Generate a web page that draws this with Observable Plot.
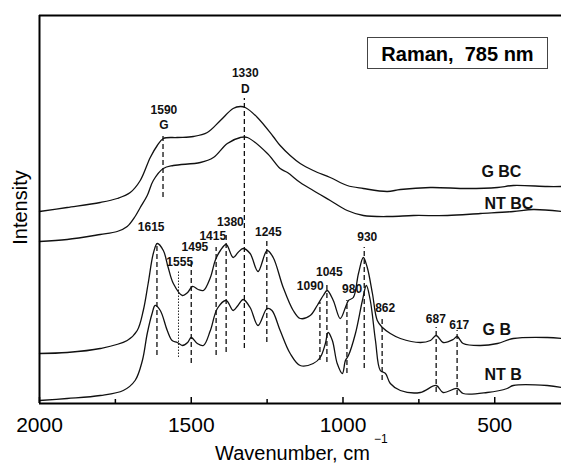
<!DOCTYPE html>
<html><head><meta charset="utf-8">
<script src="https://cdn.jsdelivr.net/npm/d3@7"></script>
<script src="https://cdn.jsdelivr.net/npm/@observablehq/plot@0.6"></script>
<style>body{margin:0;background:#fff}#chart{width:561px;height:463px}</style>
</head><body><div id="chart"></div>
<script>
const FONT = '"Liberation Sans", Arial, Helvetica, sans-serif';

// x axis ticks (wavenumber, cm^-1)
const xTicks = [2000, 1500, 1000, 500];
const xMinor = [1750, 1250, 750];

// spectra: [wavenumber, intensity (arb. units, offset stacked)]
const gBC = [[2000,192],[1909,196],[1800,201],[1744,205],[1701,211],[1668,223],[1635,246],[1612,258],[1592,265],[1546,266],[1493,267],[1447,271],[1404,283],[1362,295],[1338,297],[1322,296],[1282,286],[1230,267],[1207,258],[1174,248],[1141,240],[1098,233],[1042,226],[986,218],[933,215],[854,212],[811,214],[712,216],[590,215],[491,216],[439,218],[327,217],[280,217]];
const ntBC = [[2000,162],[1909,164],[1800,169],[1744,172],[1711,177],[1685,187],[1668,196],[1645,208],[1625,223],[1592,235],[1559,238],[1470,241],[1427,246],[1381,260],[1338,266],[1315,266],[1249,250],[1207,235],[1183,231],[1141,221],[1098,213],[1042,203],[986,193],[933,188],[844,187],[768,188],[656,188],[547,190],[439,192],[373,194],[280,192]];
const gB = [[2000,50],[1909,51],[1800,55],[1711,63],[1678,73],[1658,93],[1642,120],[1625,150],[1612,160],[1592,153],[1576,136],[1559,120],[1529,108],[1512,111],[1496,117],[1477,114],[1460,113],[1437,126],[1421,143],[1404,153],[1385,159],[1362,146],[1346,151],[1329,155],[1306,150],[1280,132],[1250,153],[1230,146],[1197,116],[1164,93],[1141,85],[1108,88],[1085,98],[1065,108],[1052,113],[1032,103],[1009,85],[992,96],[982,103],[966,106],[949,130],[933,146],[920,136],[903,110],[887,83],[870,76],[844,70],[811,65],[745,61],[712,63],[693,68],[670,61],[637,64],[624,67],[604,60],[547,58],[491,60],[439,65],[327,66],[280,65]];
const ntB = [[2000,3],[1909,5],[1800,8],[1724,13],[1685,23],[1661,43],[1645,70],[1629,90],[1619,98],[1602,93],[1579,73],[1563,63],[1546,61],[1529,58],[1512,61],[1500,66],[1480,60],[1460,58],[1437,73],[1414,95],[1385,103],[1362,93],[1346,98],[1329,104],[1306,96],[1280,78],[1250,95],[1234,93],[1207,73],[1174,50],[1141,38],[1098,40],[1075,46],[1058,60],[1049,71],[1035,63],[1019,40],[1002,30],[992,43],[982,48],[959,70],[936,103],[923,118],[910,103],[893,63],[877,33],[860,30],[844,20],[811,13],[745,11],[693,18],[670,11],[624,15],[604,10],[525,11],[459,15],[439,18],[327,18],[280,16]];

// series names and where their labels sit
const seriesNames = ["G BC", "NT BC", "G B", "NT B"];
const seriesLabelWn = [544, 534, 540, 534];
const seriesLabelI = [231.5, 200, 73.5, 29];

// band assignments
const bandLabels = ["1590","1330","1615","1555","1495","1415","1380","1245","1090","1045","980","930","862","687","617"];
const bandSub = ["G","D","","","","","","","","","","","","",""];
const bandLineAt = [1593,1325,1613,1542,1500,1418,1385,1251,1076,1053,987,930,871,693,624];
const bandLabelAt = [1590,1322,1632,1538,1488,1429,1371,1246,1108,1045,970,920,861,694,617];
const bandTop = [270,305,158,133,143,156,170,163,101,121,103,156,86,76,73];
const bandBottom = [206,55,48,46,40,48,51,61,43,41,30,35,23,11,8];
const bandLabelI = [293,330.5,176,141,156,167,181,171,117,131.5,114,166.5,95,84.5,78.5];
const bandSubI = [278,314.5];
const bandDotted = [false,false,false,true,false,false,false,false,false,false,false,false,false,false,false];

const idx = bandLabels.map((_, i) => i);
const dashedIdx = idx.filter(i => !bandDotted[i]);
const dottedIdx = idx.filter(i => bandDotted[i]);
const spectra = [gBC, ntBC, gB, ntB];

const plot = Plot.plot({
  width: 561, height: 463,
  marginLeft: 39, marginRight: 0, marginTop: 15, marginBottom: 60,
  x: {domain: [2000, 280], axis: null},
  y: {domain: [0, 388], axis: null},
  style: {fontFamily: FONT, background: "#fff", color: "#000", overflow: "visible"},
  marks: [
    ...spectra.map(s => Plot.line(s, {x: d => d[0], y: d => d[1], curve: "catmull-rom", stroke: "#111", strokeWidth: 1.3})),
    Plot.ruleX(dashedIdx, {x: i => bandLineAt[i], y1: i => bandBottom[i], y2: i => bandTop[i], stroke: "#111", strokeWidth: 1.3, strokeDasharray: "5,3"}),
    Plot.ruleX(dottedIdx, {x: i => bandLineAt[i], y1: i => bandBottom[i], y2: i => bandTop[i], stroke: "#111", strokeWidth: 0.9, strokeDasharray: "1.5,1.5"}),
    Plot.text(idx, {x: i => bandLabelAt[i], y: i => bandLabelI[i], text: i => bandLabels[i], fontSize: 12, fontWeight: "bold", fill: "#111"}),
    Plot.text([0, 1], {x: i => bandLabelAt[i], y: i => bandSubI[i], text: i => bandSub[i], fontSize: 12, fontWeight: "bold", fill: "#111"}),
    Plot.text(seriesNames, {x: (d, i) => seriesLabelWn[i], y: (d, i) => seriesLabelI[i], text: d => d, textAnchor: "start", fontSize: 16, fontWeight: "bold", fill: "#111"}),
    Plot.ruleX(xTicks, {x: d => d, y1: 0, y2: 6, stroke: "#000", strokeWidth: 1.5}),
    Plot.ruleX(xMinor, {x: d => d, y1: 0, y2: 4, stroke: "#000", strokeWidth: 1.5}),
    Plot.ruleX([2000], {stroke: "#000", strokeWidth: 2}),
    Plot.ruleY([0, 388], {stroke: "#000", strokeWidth: 2}),
    Plot.axisX(xTicks, {tickSize: 0, tickPadding: 14, fontSize: 21, label: null, tickFormat: d => String(d)})
  ]
});

const svg = d3.select(plot);
// x title with superscript
const xt = svg.append("text").attr("x", 215).attr("y", 460).attr("text-anchor", "start")
  .attr("font-family", FONT).attr("font-size", 20).attr("fill", "#000");
xt.append("tspan").text("Wavenumber, cm");
xt.append("tspan").attr("dx", 4).attr("dy", -17).attr("font-size", 12).text("\u22121");
// y title
svg.append("text").attr("transform", "translate(27,207.5) rotate(-90)")
  .attr("text-anchor", "middle").attr("font-family", FONT).attr("font-size", 20).attr("fill", "#000")
  .text("Intensity");
// legend box
svg.append("rect").attr("x", 367.5).attr("y", 37.5).attr("width", 180).attr("height", 31)
  .attr("fill", "#fff").attr("stroke", "#444").attr("stroke-width", 1);
svg.append("text").attr("x", 457.5).attr("y", 60.5).attr("text-anchor", "middle")
  .attr("font-family", FONT).attr("font-size", 20).attr("font-weight", "bold").attr("fill", "#000")
  .style("white-space", "pre").text("Raman,  785 nm");

document.getElementById("chart").appendChild(plot);
</script></body></html>
